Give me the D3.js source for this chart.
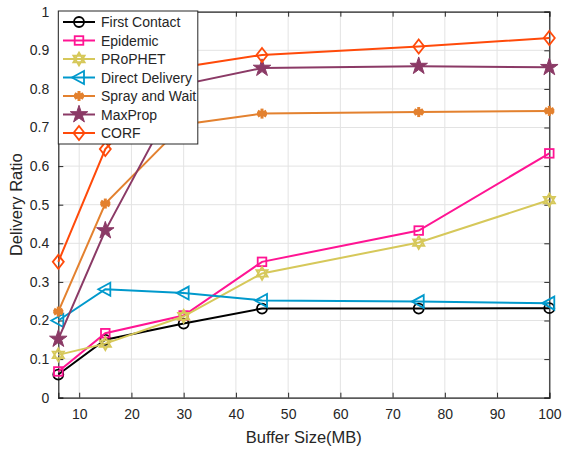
<!DOCTYPE html>
<html><head><meta charset="utf-8">
<script src="https://cdn.jsdelivr.net/npm/d3@7"></script>
<style>body{margin:0;background:#fff}svg{display:block}text{font-family:"Liberation Sans",Arial,sans-serif;fill:#262626}</style>
</head><body><svg id="c" width="563" height="451"></svg>
<script>
const bufferSizes = [6, 15, 30, 45, 75, 100];
const seriesNames = ["First Contact","Epidemic","PRoPHET","Direct Delivery","Spray and Wait","MaxProp","CORF"];
const firstContact = [0.06, 0.15, 0.192, 0.231, 0.231, 0.232];
const epidemic = [0.068, 0.167, 0.213, 0.352, 0.433, 0.633];
const prophet = [0.111, 0.140, 0.211, 0.322, 0.402, 0.512];
const directDelivery = [0.200, 0.281, 0.271, 0.252, 0.249, 0.245];
const sprayAndWait = [0.223, 0.503, 0.708, 0.736, 0.740, 0.743];
const maxProp = [0.152, 0.433, 0.812, 0.854, 0.859, 0.856];
const corf = [0.352, 0.644, 0.857, 0.888, 0.910, 0.932];
const xTicks = [10,20,30,40,50,60,70,80,90,100];
const yTicks = [0,0.1,0.2,0.3,0.4,0.5,0.6,0.7,0.8,0.9,1];

const values = [firstContact, epidemic, prophet, directDelivery, sprayAndWait, maxProp, corf];
const colors = ["#000000","#FF1493","#D6C85A","#0099CC","#E3812F","#8B3A66","#FF4A0A"];
const markers = ["circle","square","hexagram","triangleLeft","asterisk","pentagram","diamond"];

const svg = d3.select("#c");
const L = 58.3, R = 549.3, T = 11.7, B = 397.7;
const x = d3.scaleLinear().domain([6,100]).range([L,R]);
const y = d3.scaleLinear().domain([0,1]).range([B,T]);

// grid
const g = svg.append("g");
g.selectAll(".gx").data(xTicks).join("line").attr("x1",d=>x(d)).attr("x2",d=>x(d)).attr("y1",T).attr("y2",B).attr("stroke","#e3e3e3").attr("stroke-width",1);
g.selectAll(".gy").data(yTicks).join("line").attr("y1",d=>y(d)).attr("y2",d=>y(d)).attr("x1",L).attr("x2",R).attr("stroke","#e3e3e3").attr("stroke-width",1);

// axes
const axCol = "#262626";
const xAxis = svg.append("g").attr("transform",`translate(0,${B})`).call(d3.axisBottom(x).tickValues(xTicks).tickSize(-5).tickPadding(11).tickFormat(d3.format("d")));
const xAxisTop = svg.append("g").attr("transform",`translate(0,${T})`).call(d3.axisTop(x).tickValues(xTicks).tickSize(-5).tickFormat(""));
const yAxis = svg.append("g").attr("transform",`translate(${L},0)`).call(d3.axisLeft(y).tickValues(yTicks).tickSize(-5).tickPadding(9).tickFormat(d=>d===0?"0":d===1?"1":d3.format(".1f")(d)));
const yAxisR = svg.append("g").attr("transform",`translate(${R},0)`).call(d3.axisRight(y).tickValues(yTicks).tickSize(-5).tickFormat(""));
[xAxis,xAxisTop,yAxis,yAxisR].forEach(a=>{
  a.select(".domain").attr("stroke",axCol).attr("stroke-width",1.2);
  a.selectAll(".tick line").attr("stroke",axCol).attr("stroke-width",1);
  a.selectAll("text").attr("font-size",14).attr("fill",axCol).style("font-family","Liberation Sans, Arial, sans-serif");
});

svg.append("text").attr("x",(L+R)/2).attr("y",443).attr("text-anchor","middle").attr("font-size",16.5).text("Buffer Size(MB)");
svg.append("text").attr("transform",`translate(22,${(T+B)/2}) rotate(-90)`).attr("text-anchor","middle").attr("font-size",16.5).text("Delivery Ratio");

function drawMarker(sel, type, color, cx, cy) {
  const gg = sel.append("g").attr("transform",`translate(${cx},${cy})`);
  const sw = 1.8;
  if (type==="circle") gg.append("circle").attr("r",5).attr("fill","none").attr("stroke",color).attr("stroke-width",sw);
  else if (type==="square") gg.append("rect").attr("x",-4.3).attr("y",-4.3).attr("width",8.6).attr("height",8.6).attr("fill","none").attr("stroke",color).attr("stroke-width",sw);
  else if (type==="diamond") gg.append("path").attr("d","M0,-7L5.5,0L0,7L-5.5,0Z").attr("fill","none").attr("stroke",color).attr("stroke-width",sw);
  else if (type==="triangleLeft") gg.append("path").attr("d","M-7,0L5,-6.5L5,6.5Z").attr("fill","none").attr("stroke",color).attr("stroke-width",sw);
  else if (type==="pentagram") gg.append("path").attr("d",d3.symbol(d3.symbolStar,95)()).attr("fill",color).attr("stroke",color).attr("stroke-width",1);
  else if (type==="hexagram") {
    const r=6.5;
    const p1=[0,1,2].map(i=>{const a=-Math.PI/2+i*2*Math.PI/3;return [r*Math.cos(a),r*Math.sin(a)];});
    const p2=[0,1,2].map(i=>{const a=Math.PI/2+i*2*Math.PI/3;return [r*Math.cos(a),r*Math.sin(a)];});
    gg.append("path").attr("d","M"+p1.join("L")+"Z"+"M"+p2.join("L")+"Z").attr("fill","none").attr("stroke",color).attr("stroke-width",1.8);
  }
  else if (type==="asterisk") {
    const r=5;
    [0,60,120].forEach(a=>{const t=a*Math.PI/180;gg.append("line").attr("x1",-r*Math.sin(t)).attr("y1",-r*Math.cos(t)).attr("x2",r*Math.sin(t)).attr("y2",r*Math.cos(t)).attr("stroke",color).attr("stroke-width",3);});
    gg.append("line").attr("x1",-r).attr("x2",r).attr("y1",0).attr("y2",0).attr("stroke",color).attr("stroke-width",3);
    gg.append("circle").attr("r",3).attr("fill",color);
  }
}

const line = d3.line().x((d,i)=>x(bufferSizes[i])).y(d=>y(d));
const plot = svg.append("g");
values.forEach((vals,k)=>{
  plot.append("path").attr("d",line(vals)).attr("fill","none").attr("stroke",colors[k]).attr("stroke-width",2);
  vals.forEach((v,i)=>drawMarker(plot, markers[k], colors[k], x(bufferSizes[i]), y(v)));
});

// legend
const lg = svg.append("g");
const lx = 58.3, ly = 11, lw = 139.5, lh = 133;
lg.append("rect").attr("x",lx).attr("y",ly).attr("width",lw).attr("height",lh).attr("fill","#fff").attr("stroke",axCol).attr("stroke-width",1);
seriesNames.forEach((n,k)=>{
  const cy = 22 + k*18.5;
  lg.append("line").attr("x1",63).attr("x2",95).attr("y1",cy).attr("y2",cy).attr("stroke",colors[k]).attr("stroke-width",2);
  drawMarker(lg, markers[k], colors[k], 79, cy);
  lg.append("text").attr("x",101).attr("y",cy+5).attr("font-size",14).attr("fill","#000").text(n);
});
</script></body></html>
